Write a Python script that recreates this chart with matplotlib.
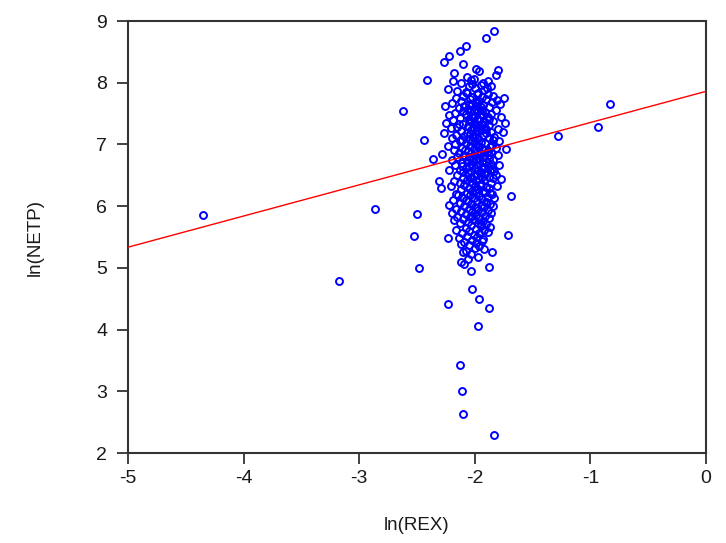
import matplotlib
matplotlib.use("Agg")
import matplotlib.pyplot as plt
import numpy as np

plt.rcParams['font.family'] = ['Liberation Sans', 'DejaVu Sans']

# Observations: (ln(REX), ln(NETP)) pairs, roughly ordered by ln(NETP)
obs = [
    (-1.83, 8.84), (-1.90, 8.72), (-2.08, 8.60), (-2.13, 8.51), (-2.22, 8.43),
    (-2.27, 8.33), (-2.10, 8.31), (-1.99, 8.23), (-1.96, 8.19), (-1.80, 8.21),
    (-2.18, 8.16), (-1.82, 8.13), (-2.07, 8.09), (-2.03, 8.05),
    (-2.41, 8.04), (-2.19, 8.02), (-2.01, 8.06), (-1.89, 8.03), (-1.93, 7.99),
    (-1.95, 7.96), (-2.12, 7.99), (-2.00, 7.91), (-1.86, 7.94), (-2.05, 7.95),
    (-2.15, 7.86), (-1.92, 7.88), (-2.08, 7.85), (-1.97, 7.83), (-2.23, 7.90),
    (-2.10, 7.79), (-1.98, 7.81), (-1.84, 7.78), (-2.02, 7.77), (-1.89, 7.82),
    (-1.75, 7.75), (-2.04, 7.74), (-1.94, 7.77), (-2.16, 7.76),
    (-2.12, 7.71), (-1.90, 7.73), (-1.96, 7.70), (-2.00, 7.69), (-1.81, 7.72),
    (-2.20, 7.67), (-2.05, 7.66), (-1.85, 7.69), (-1.78, 7.66), (-1.93, 7.64),
    (-2.26, 7.63), (-1.98, 7.62), (-2.02, 7.65), (-2.09, 7.62),
    (-0.83, 7.65),
    (-2.06, 7.58), (-1.88, 7.61), (-2.14, 7.59), (-1.99, 7.57), (-1.95, 7.60),
    (-2.62, 7.54), (-2.01, 7.55), (-1.91, 7.53), (-1.82, 7.56), (-2.10, 7.54),
    (-2.17, 7.51), (-1.95, 7.50), (-2.04, 7.52), (-1.86, 7.49), (-1.97, 7.54),
    (-2.22, 7.47), (-2.00, 7.46), (-1.93, 7.48), (-1.77, 7.45), (-2.08, 7.49),
    (-2.13, 7.43), (-1.98, 7.42), (-1.89, 7.44), (-2.05, 7.41), (-2.02, 7.44),
    (-2.19, 7.39), (-2.03, 7.37), (-1.96, 7.40), (-1.84, 7.38), (-1.91, 7.36),
    (-2.25, 7.35), (-2.10, 7.33), (-2.00, 7.34), (-1.94, 7.31), (-1.74, 7.35),
    (-2.06, 7.30), (-1.97, 7.28), (-1.88, 7.31), (-2.15, 7.29), (-2.01, 7.26),
    (-0.93, 7.28), (-2.21, 7.26), (-2.03, 7.24), (-1.92, 7.27), (-1.80, 7.25),
    (-2.12, 7.22), (-1.99, 7.21), (-1.95, 7.23), (-1.86, 7.20), (-2.07, 7.19),
    (-2.27, 7.19), (-2.04, 7.17), (-1.90, 7.18), (-1.76, 7.20), (-2.16, 7.16),
    (-2.09, 7.14), (-2.00, 7.13), (-1.93, 7.15), (-1.83, 7.12), (-1.97, 7.10),
    (-1.28, 7.13), (-2.20, 7.11), (-2.05, 7.09), (-1.88, 7.10), (-2.11, 7.07),
    (-2.44, 7.07), (-2.13, 7.05), (-2.02, 7.06), (-1.95, 7.04), (-1.79, 7.06),
    (-2.08, 7.02), (-1.99, 7.01), (-1.91, 7.03), (-1.85, 6.99), (-2.17, 7.01),
    (-2.23, 6.98), (-2.04, 6.97), (-1.97, 6.98), (-1.87, 6.96), (-1.94, 6.95),
    (-2.11, 6.94), (-2.01, 6.93), (-1.93, 6.91), (-1.82, 6.94), (-2.06, 6.90),
    (-2.18, 6.91), (-1.98, 6.88), (-1.89, 6.89), (-1.73, 6.92), (-2.03, 6.86),
    (-2.14, 6.86), (-1.95, 6.85), (-1.86, 6.87), (-2.09, 6.83),
    (-2.28, 6.84), (-2.00, 6.82), (-1.92, 6.80), (-1.80, 6.83), (-2.05, 6.79),
    (-2.15, 6.79), (-1.96, 6.78), (-1.88, 6.77), (-2.02, 6.75),
    (-2.36, 6.77), (-2.20, 6.75), (-2.07, 6.73), (-1.99, 6.74), (-1.90, 6.72),
    (-1.84, 6.74), (-2.11, 6.70), (-2.03, 6.69), (-1.94, 6.71), (-1.86, 6.68),
    (-2.17, 6.66), (-2.05, 6.65), (-1.97, 6.67), (-1.89, 6.64), (-1.79, 6.66),
    (-2.08, 6.62), (-2.00, 6.61), (-1.93, 6.63), (-1.85, 6.60), (-2.13, 6.59),
    (-2.22, 6.58), (-2.03, 6.57), (-1.95, 6.56), (-1.87, 6.58), (-2.10, 6.55),
    (-2.06, 6.53), (-1.98, 6.52), (-1.91, 6.54), (-1.82, 6.51), (-2.01, 6.49),
    (-2.15, 6.50), (-1.94, 6.48), (-1.88, 6.47), (-2.04, 6.46),
    (-2.10, 6.45), (-1.96, 6.44), (-1.84, 6.46), (-1.77, 6.44), (-2.07, 6.42),
    (-2.18, 6.41), (-1.99, 6.40), (-1.92, 6.42), (-2.02, 6.37),
    (-2.31, 6.40), (-2.13, 6.38), (-1.95, 6.36), (-1.86, 6.38), (-2.09, 6.34),
    (-2.00, 6.33), (-1.90, 6.31), (-2.21, 6.32), (-2.05, 6.30), (-1.97, 6.28),
    (-1.88, 6.29), (-1.81, 6.32), (-2.29, 6.29), (-2.12, 6.27), (-2.02, 6.25),
    (-1.93, 6.24), (-2.07, 6.22), (-1.99, 6.21), (-1.91, 6.23), (-1.85, 6.20),
    (-2.16, 6.19), (-2.04, 6.18), (-1.96, 6.17), (-1.89, 6.15),
    (-1.69, 6.17), (-2.10, 6.14), (-2.01, 6.13), (-1.94, 6.11), (-1.83, 6.13),
    (-2.19, 6.10), (-2.06, 6.09), (-1.98, 6.08), (-1.90, 6.06),
    (-2.13, 6.05), (-2.03, 6.04), (-1.95, 6.02), (-1.87, 6.04),
    (-2.22, 6.02), (-2.09, 6.00), (-2.00, 5.99), (-1.92, 5.98), (-1.84, 6.00),
    (-2.16, 5.96), (-2.05, 5.95), (-1.97, 5.94), (-1.89, 5.93),
    (-2.86, 5.95), (-2.12, 5.92), (-2.02, 5.90), (-1.94, 5.91), (-1.86, 5.89),
    (-2.20, 5.89), (-2.08, 5.87), (-1.99, 5.86), (-1.91, 5.84),
    (-2.50, 5.87), (-2.15, 5.83), (-2.04, 5.82), (-1.96, 5.81), (-1.88, 5.80),
    (-4.35, 5.85), (-2.10, 5.79), (-2.01, 5.77), (-1.93, 5.76),
    (-2.18, 5.78), (-2.06, 5.74), (-1.97, 5.73), (-1.90, 5.71),
    (-2.13, 5.72), (-2.03, 5.69), (-1.95, 5.68), (-1.87, 5.66),
    (-2.08, 5.65), (-1.99, 5.63), (-1.92, 5.61),
    (-2.16, 5.62), (-2.05, 5.59), (-1.96, 5.57),
    (-2.11, 5.56), (-2.01, 5.54), (-1.89, 5.58),
    (-2.07, 5.52), (-1.98, 5.50), (-1.93, 5.47),
    (-2.14, 5.49), (-2.02, 5.45), (-1.71, 5.54),
    (-2.53, 5.51), (-2.09, 5.42), (-1.99, 5.40), (-1.94, 5.43),
    (-2.23, 5.48), (-2.05, 5.37), (-1.96, 5.35),
    (-2.12, 5.39), (-2.00, 5.32), (-2.08, 5.28), (-1.92, 5.30),
    (-2.03, 5.22), (-2.10, 5.25), (-1.97, 5.18), (-1.85, 5.25), (-2.06, 5.15),
    (-2.12, 5.10), (-2.09, 5.06), (-1.88, 5.02), (-2.48, 4.99), (-2.03, 4.95),
    (-3.175, 4.79), (-2.02, 4.65), (-1.96, 4.50), (-2.23, 4.42), (-1.88, 4.35),
    (-1.97, 4.06), (-2.13, 3.43), (-2.11, 3.01), (-2.10, 2.63), (-1.83, 2.29),
    # densest part of the cloud
    (-1.985, 7.675), (-1.935, 7.555), (-2.045, 7.385), (-1.905, 7.245),
    (-2.015, 7.115), (-1.965, 6.965), (-1.875, 6.835), (-2.055, 6.715),
    (-1.925, 6.605), (-2.035, 6.475), (-1.955, 6.345), (-1.865, 6.215),
    (-2.075, 6.095), (-1.985, 5.965), (-2.025, 5.835), (-1.945, 5.705),
    (-1.895, 7.915), (-2.065, 7.835), (-1.875, 7.405), (-2.135, 7.325),
    (-1.845, 7.065), (-2.085, 6.905), (-1.915, 6.515), (-2.115, 6.655),
    (-1.835, 6.565), (-1.995, 6.255), (-2.145, 6.175), (-1.955, 6.865),
    (-2.025, 7.985), (-1.935, 7.335), (-1.975, 6.585), (-1.905, 6.065),
]
ln_rex = [p[0] for p in obs]
ln_netp = [p[1] for p in obs]

# Least-squares line shown across the plotted range
fit_intercept = 7.86
fit_slope = 0.505
fit_x = [-5.0, 0.0]

x_ticks = [-5, -4, -3, -2, -1, 0]
y_ticks = [2, 3, 4, 5, 6, 7, 8, 9]

W, H = 726, 543
fig = plt.figure(figsize=(W / 100, H / 100), dpi=100)
ax = fig.add_axes([128 / W, 1 - 453 / H, (706 - 128) / W, (453 - 21) / H])

ax.plot(ln_rex, ln_netp, linestyle='none', marker='o', markersize=5.0,
        markerfacecolor='none', markeredgecolor='#0000ff', markeredgewidth=1.4,
        zorder=2)
fx = np.array(fit_x)
ax.plot(fx, fit_intercept + fit_slope * fx, color='#ff0000', linewidth=1.0, zorder=3)

ax.set_xlim(-5, 0)
ax.set_ylim(2, 9)
ax.set_xticks(x_ticks)
ax.set_yticks(y_ticks)
ax.set_xticklabels([str(t) for t in x_ticks])
ax.set_yticklabels([str(t) for t in y_ticks])

for s in ax.spines.values():
    s.set_linewidth(1.5)
    s.set_color('#333333')
ax.tick_params(axis='both', direction='out', length=8, width=1.3,
               colors='#333333', labelsize=14, labelcolor='#1a1a1a')
ax.tick_params(axis='x', pad=4)
ax.tick_params(axis='y', pad=7)

fig.text(417 / W, 1 - 525 / H, 'ln(REX)', ha='center', va='center',
         fontsize=13.5, color='#1a1a1a')
fig.text(35 / W, 1 - 237 / H, 'ln(NETP)', ha='center', va='center',
         rotation=90, fontsize=13.5, color='#1a1a1a')

fig.savefig('out.png', dpi=100)
